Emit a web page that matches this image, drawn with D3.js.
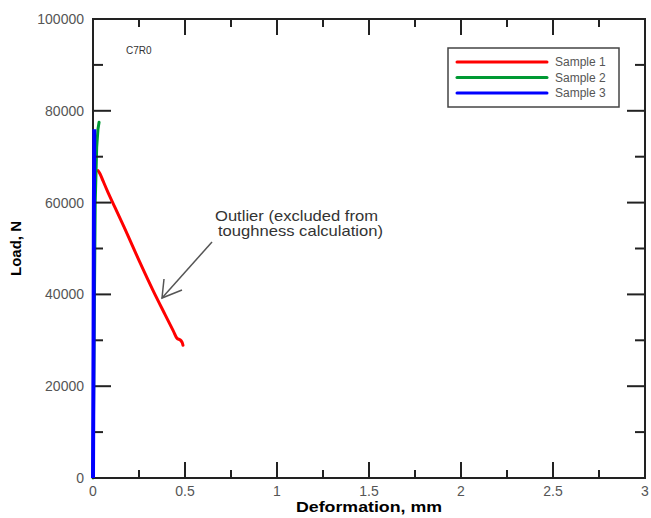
<!DOCTYPE html>
<html><head><meta charset="utf-8">
<script src="https://cdn.jsdelivr.net/npm/d3@7"></script>
<style>body{margin:0;background:#fff;font-family:"Liberation Sans",Arial,sans-serif}</style>
</head><body><svg id="c" width="651" height="518"></svg>
<script>
const xTicks = [0, 0.5, 1, 1.5, 2, 2.5, 3];
const yTicks = [0, 20000, 40000, 60000, 80000, 100000];
const seriesNames = ["Sample 1", "Sample 2", "Sample 3"];
const seriesColors = ["#ff0000", "#009933", "#0000ff"];
const sample1 = [[0.027,66960],[0.038,66300],[0.054,64780],[0.082,62170],[0.120,58910],[0.185,53260],[0.255,46960],[0.326,40870],[0.391,35650],[0.435,32170],[0.457,30430],[0.473,30110],[0.484,29570],[0.489,28910]];
const sample2 = [[0,0],[0.006,30000],[0.012,60000],[0.02,72000],[0.027,76000],[0.033,77500]];
const sample3 = [[0,0],[0.003,30000],[0.005,60000],[0.007,76000]];
const annotation = ["Outlier (excluded from", "toughness calculation)"];
const svg = d3.select("#c");
const L=93,R=645,T=19,B=478;
const x = d3.scaleLinear().domain([0,3]).range([L,R]);
const y = d3.scaleLinear().domain([0,100000]).range([B,T]);
const line = d3.line().x(d=>x(d[0])).y(d=>y(d[1]));
const smooth = d3.line().x(d=>x(d[0])).y(d=>y(d[1])).curve(d3.curveCatmullRom);
// data
svg.append("path").attr("d",smooth(sample1)).attr("fill","none").attr("stroke",seriesColors[0]).attr("stroke-width",3).attr("stroke-linejoin","round").attr("stroke-linecap","round");
svg.append("path").attr("d",line(sample2)).attr("fill","none").attr("stroke",seriesColors[1]).attr("stroke-width",3).attr("stroke-linejoin","round").attr("stroke-linecap","round");
// ticks inward
const g = svg.append("g").attr("stroke","#222").attr("stroke-width",2);
d3.range(0,3.001,0.25).forEach(v=>{
  const major = Math.abs(v*2-Math.round(v*2))<1e-6;
  const len = major?16:8;
  if(v>0&&v<3){
    g.append("line").attr("x1",x(v)).attr("x2",x(v)).attr("y1",B).attr("y2",B-len);
    g.append("line").attr("x1",x(v)).attr("x2",x(v)).attr("y1",T).attr("y2",T+len);
  }
});
d3.range(0,100001,10000).forEach(v=>{
  const major = v%20000===0;
  const len = major?18:10;
  if(v>0&&v<100000){
    g.append("line").attr("x1",L).attr("x2",L+len).attr("y1",y(v)).attr("y2",y(v));
    g.append("line").attr("x1",R).attr("x2",R-len).attr("y1",y(v)).attr("y2",y(v));
  }
});
svg.append("rect").attr("x",L).attr("y",T).attr("width",R-L).attr("height",B-T).attr("fill","none").attr("stroke","#222").attr("stroke-width",2);
// blue drawn over axis
svg.append("path").attr("d",line(sample3)).attr("fill","none").attr("stroke",seriesColors[2]).attr("stroke-width",4).attr("stroke-linecap","butt").attr("stroke-linejoin","round");
// tick labels
xTicks.forEach(v=>svg.append("text").attr("x",x(v)).attr("y",496).attr("text-anchor","middle").attr("font-size",14).attr("fill","#555").text(v));
yTicks.forEach(v=>svg.append("text").attr("x",84).attr("y",y(v)+5).attr("text-anchor","end").attr("font-size",14).attr("fill","#555").text(v));
svg.append("text").attr("x",369).attr("y",512).attr("text-anchor","middle").attr("font-size",15).attr("font-weight","bold").attr("textLength",146).attr("lengthAdjust","spacingAndGlyphs").text("Deformation, mm");
svg.append("text").attr("transform",`translate(21,${(T+B)/2}) rotate(-90)`).attr("text-anchor","middle").attr("font-size",15).attr("font-weight","bold").text("Load, N");
svg.append("text").attr("x",126).attr("y",54).attr("font-size",10).attr("fill","#333").text("C7R0");
// legend
svg.append("rect").attr("x",448).attr("y",48).attr("width",171).attr("height",59).attr("fill","#fff").attr("stroke","#444").attr("stroke-width",1.5);
seriesNames.forEach((n,i)=>{
  const yy=62+i*15.5;
  svg.append("line").attr("x1",457).attr("x2",547).attr("y1",yy).attr("y2",yy).attr("stroke",seriesColors[i]).attr("stroke-width",3).attr("stroke-linecap","round");
  svg.append("text").attr("x",555).attr("y",yy+4).attr("font-size",12).attr("fill","#555").text(n);
});
// annotation
annotation.forEach((t,i)=>svg.append("text").attr("x",i?218:215).attr("y",221+i*14.5).attr("font-size",14.5).attr("fill","#333").attr("textLength",i?165:163).attr("lengthAdjust","spacingAndGlyphs").text(t));
const ag = svg.append("g").attr("stroke","#555").attr("stroke-width",1.5).attr("fill","none");
ag.append("line").attr("x1",212).attr("y1",242).attr("x2",162).attr("y2",298);
ag.append("polyline").attr("points","164,279 162,298 182,290");
</script></body></html>
